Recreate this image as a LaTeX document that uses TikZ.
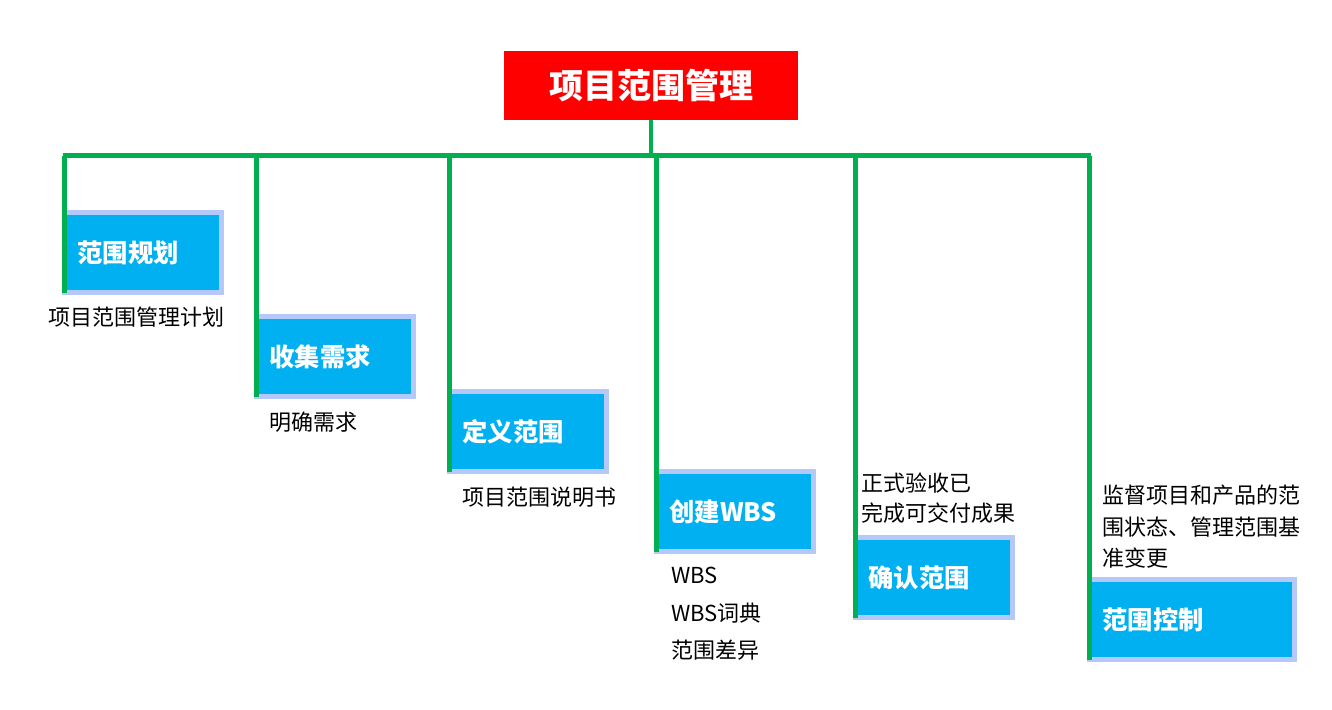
\documentclass[tikz,border=0pt]{standalone}
\usepackage{fontspec}
\setmainfont{Noto Sans CJK SC}
\definecolor{busgreen}{HTML}{00B050}
\definecolor{boxblue}{HTML}{00B0F0}
\definecolor{boxedge}{HTML}{B4C8FA}
\definecolor{titlered}{HTML}{FF0000}
\tikzset{
  x=0.75pt, y=-0.75pt,
  titlebox/.style={fill=titlered, draw=none, minimum width=220.5pt, minimum height=51.75pt,
    inner sep=0pt, text=white, font=\bfseries\fontsize{25.5pt}{30pt}\selectfont},
  stagebox/.style={fill=boxblue, draw=boxedge, line width=3.75pt, outer sep=0pt,
    anchor=north west, minimum width=117.75pt, minimum height=60pt,
    inner xsep=9.75pt, inner ysep=0pt, text width=98.25pt, align=left,
    text=white, font=\bfseries\fontsize{19pt}{23pt}\selectfont},
  desc/.style={anchor=west, inner sep=0pt, align=left, text=black,
    font=\fontsize{16.5pt}{22pt}\selectfont},
  bus/.style={draw=busgreen, line width=3.6pt}
}
\begin{document}
\begin{tikzpicture}
\useasboundingbox (0,0) rectangle (1332,710);

\node[titlebox] (t) at (651,85.5) {项目范围管理};

\node[stagebox] (b1) at (64.5,212.5) {范围规划};
\node[stagebox] (b2) at (256.5,316.5) {收集需求};
\node[stagebox] (b3) at (449.5,391.5) {定义范围};
\node[stagebox] (b4) at (656.5,471.5) {创建WBS};
\node[stagebox] (b5) at (855.5,537.5) {确认范围};
\node[stagebox, minimum width=153.75pt, text width=134.25pt] (b6) at (1089.5,579.5) {范围控制};

\node[desc] (d1) at (48,317) {项目范围管理计划};
\node[desc] (d2) at (269,422) {明确需求};
\node[desc] (d3) at (462,497) {项目范围说明书};
\node[desc, font=\fontsize{16.5pt}{28pt}\selectfont] (d4) at (671,614) {WBS\\WBS词典\\范围差异};
\node[desc, font=\fontsize{16.5pt}{22.5pt}\selectfont] (d5) at (861,498) {正式验收已\\完成可交付成果};
\node[desc, font=\fontsize{16.5pt}{23.6pt}\selectfont] (d6) at (1102,527) {监督项目和产品的范\\围状态、管理范围基\\准变更};

\coordinate (busL) at (62.8,155.5);
\coordinate (busR) at (1091.3,155.5);
\draw[bus] (busL) -- (busR);
\draw[bus] (t.south) -- (t.south |- busL);
\draw[bus] (b1.south west |- busL) -- (b1.south west);
\draw[bus] (b2.south west |- busL) -- (b2.south west);
\draw[bus] (b3.south west |- busL) -- (b3.south west);
\draw[bus] (b4.south west |- busL) -- (b4.south west);
\draw[bus] (b5.south west |- busL) -- (b5.south west);
\draw[bus] (b6.south west |- busL) -- (b6.south west);
\end{tikzpicture}
\end{document}
